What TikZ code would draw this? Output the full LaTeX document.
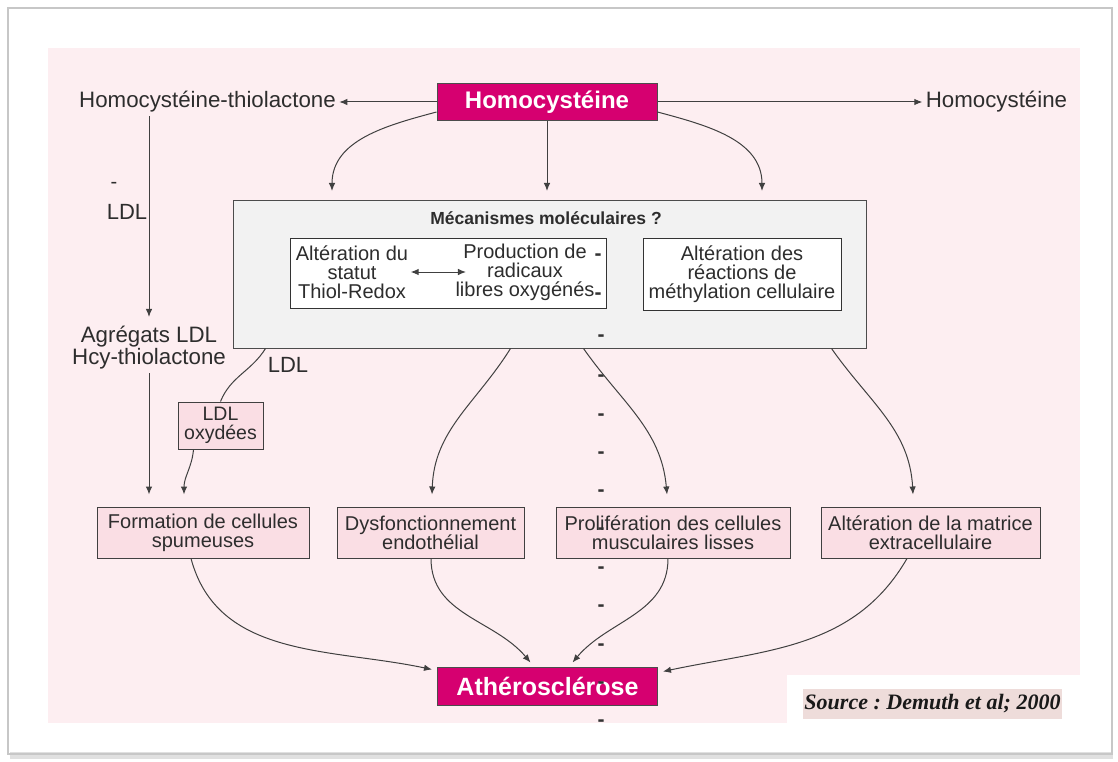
\documentclass[tikz,border=0pt]{standalone}
\usepackage{fontspec}
\setmainfont{Liberation Sans}
\newfontfamily\srcfont{Liberation Serif}
\usetikzlibrary{positioning, arrows.meta}

\definecolor{panelpink}{RGB}{253,238,241}
\definecolor{hcymag}{RGB}{214,0,112}
\definecolor{boxpink}{RGB}{250,222,228}
\definecolor{mecagray}{RGB}{242,242,242}
\definecolor{srcbg}{RGB}{238,220,218}
\definecolor{inkgray}{RGB}{45,45,45}

\begin{document}
\begin{tikzpicture}[
    x=1pt, y=1pt,
    node distance=100pt,
    on grid,
    >={Latex[length=8pt,width=6.5pt]},
    every node/.style={text=inkgray, font=\fontsize{20}{19}\selectfont},
    toplabel/.style={font=\fontsize{22.3}{22}\selectfont, align=center},
    hcybox/.style={draw=black!70, line width=1pt, fill=hcymag, text=white,
        font=\fontsize{24}{24}\selectfont\bfseries, inner sep=0pt,
        minimum width=220pt, minimum height=37pt},
    mecabox/.style={draw=black!70, line width=1pt, fill=mecagray,
        minimum width=633pt, minimum height=148pt},
    innerbox/.style={draw=black!80, line width=1pt, fill=white, align=center,
        inner sep=0pt, minimum height=70pt},
    effbox/.style={draw=black!75, line width=1pt, fill=boxpink, align=center,
        inner sep=0pt, minimum height=51pt},
    dashmark/.style={font=\fontsize{21}{21}\selectfont\bfseries, text=black!80},
    every edge/.append style={line width=1pt, draw=black!75}
]

   % frame and background
   \useasboundingbox (0,0) rectangle (1118,-762);
   \fill[white] (0,0) rectangle (1118,-762);
   \fill[black!12] (10,-752) rectangle (1113,-759);
   \draw[black!22, line width=2pt] (8,-8) rectangle (1112,-754);
   \fill[panelpink] (48,-48) rectangle (1080,-723);
   \fill[white] (787,-675) rectangle (1080,-723);

   % Top row
   \node[hcybox] (hcy) at (547,-102) {Homocystéine};
   \node[toplabel] (thio) [left=339.5pt of hcy] {Homocystéine-thiolactone};
   \node[toplabel] (hcyout) [right=449.5pt of hcy] {Homocystéine};
   \coordinate (m1) at (332,-191);
   \coordinate (m2) at (547,-191);
   \coordinate (m3) at (762,-191);

   % Molecular mechanisms
   \node[mecabox] (meca) at (549.5,-274) {};
   \node[font=\fontsize{17.5}{18}\selectfont\bfseries] (mecatitle) at (546,-218) {Mécanismes moléculaires ?};
   \node[innerbox, minimum width=316pt] (redox) at (448,-273) {};
   \node[align=center] (redoxl) at (352,-272) {Altération du\\statut\\Thiol-Redox};
   \node[align=center] (redoxr) at (525,-272) {Production de\\radicaux\\libres oxygénés};
   \node[innerbox, minimum width=198pt, minimum height=72pt] (methyl) at (742,-274)
        {Altération des\\réactions de\\méthylation cellulaire};

   % Left column
   \node (minus) at (114,-185) {-};
   \node[font=\fontsize{22}{22}\selectfont] (ldlleft) at (127,-212) {LDL};
   \node[toplabel] (agreg) at (149,-348) {Agrégats LDL\\Hcy-thiolactone};
   \node[font=\fontsize{22}{22}\selectfont] (ldlmid) at (288,-365) {LDL};
   \node[effbox, minimum width=85pt, minimum height=47pt, font=\fontsize{19.5}{19}\selectfont] (ldlox) at (220.5,-425.5) {LDL\\oxydées};

   % Effects
   \node[effbox, minimum width=212pt] (form) at (203,-532.5) {Formation de cellules\\spumeuses};
   \node[effbox, minimum width=187pt] (dysf) [right=227.5pt of form] {Dysfonctionnement\\endothélial};
   \node[effbox, minimum width=234pt] (prolif) [right=242.5pt of dysf] {Prolifération des cellules\\musculaires lisses};
   \node[effbox, minimum width=219pt] (matrice) [right=257.5pt of prolif] {Altération de la matrice\\extracellulaire};

   % Outcome
   \node[hcybox, font=\fontsize{25}{25}\selectfont\bfseries, minimum height=38pt] (athero) at (547.5,-686) {Athérosclérose};
   \node[fill=srcbg, inner sep=0pt, minimum width=259pt, minimum height=30pt,
         text=black!90, font=\srcfont\fontsize{22}{22}\selectfont\bfseries\itshape\frenchspacing] (source) at (932.5,-703.5)
        {Source : Demuth et al; 2000};

   % stray marks of the scan
   \foreach \y in {338,378,417,455,493,531,570,608,647,685,723}
      \node[dashmark] (dash\y) at (601,-\y) {-};
   \node[dashmark] (dashr1) at (598,-257) {-};
   \node[dashmark] (dashr2) at (598,-296) {-};

   % Connectors
   \path[->]
   (hcy.west) edge (thio.east)
   (hcy.east) edge (hcyout.west)
   (hcy.south) edge (m2)
   ([yshift=-10pt]hcy.west) edge[out=195, in=90] (m1)
   ([yshift=-10pt]hcy.east) edge[out=-15, in=90] (m3)

   ([xshift=-1pt]redoxl.east) edge[<->] ([xshift=14pt]redoxr.west)

   (agreg |- thio.south) edge[shorten >=6pt] (agreg.north)
   (agreg.south) edge[shorten >=12pt] (agreg |- form.north)
   ([xshift=-27pt]ldlox.south) edge[out=-95, in=90] ([xshift=-19pt,yshift=12pt]form.north)

   ([xshift=278pt]meca.south west) edge[out=238, in=88] ([xshift=1.5pt,yshift=12pt]dysf.north)
   ([xshift=351pt]meca.south west) edge[out=-55, in=95] ([xshift=-6pt,yshift=12pt]prolif.north)
   ([xshift=599pt]meca.south west) edge[out=-55, in=93] ([xshift=-17.5pt,yshift=12pt]matrice.north)

   ([xshift=-12pt]form.south) edge[out=-75, in=168] ([xshift=-5pt,yshift=-3pt]athero.north west)
   ([xshift=0.5pt]dysf.south) edge[out=-90, in=130] ([xshift=-17pt,yshift=4pt]athero.north)
   ([xshift=-5pt]prolif.south) edge[out=-90, in=50] ([xshift=25pt,yshift=4pt]athero.north)
   ([xshift=-23.5pt]matrice.south) edge[out=-120, in=12] ([xshift=5pt,yshift=-5pt]athero.north east);

   \draw[line width=1pt, draw=black!75] ([xshift=33pt]meca.south west) to[out=238, in=68] (ldlox.north);

\end{tikzpicture}
\end{document}
